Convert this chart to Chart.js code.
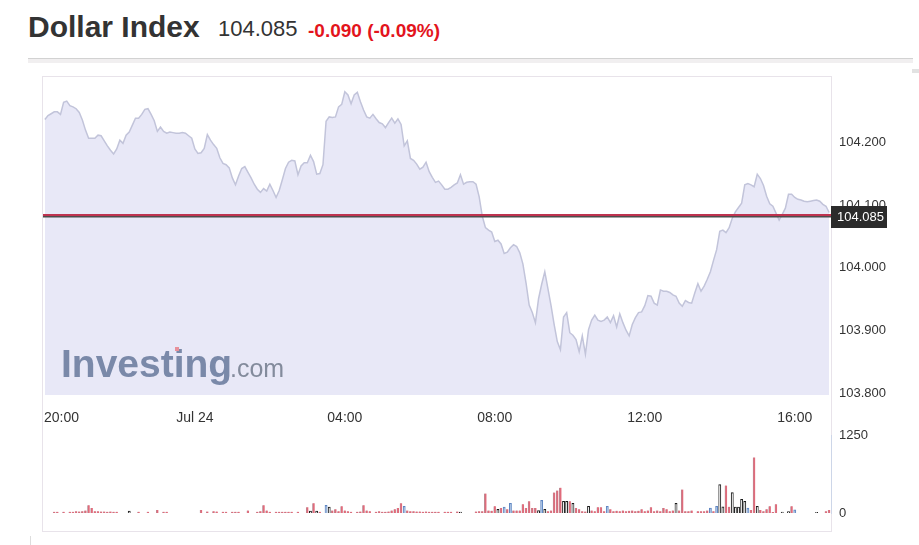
<!DOCTYPE html>
<html>
<head>
<meta charset="utf-8">
<script src="https://cdn.jsdelivr.net/npm/chart.js@4.4.0/dist/chart.umd.min.js"></script>
<style>
    body { margin: 0; background: #fff; width: 919px; height: 545px; overflow: hidden; position: relative; font-family: "Liberation Sans", Arial, sans-serif; }
    .t { position: absolute; white-space: nowrap; line-height: 1; }
    .ln { position: absolute; }
    canvas { position: absolute; left: 0; }
</style>
</head>
<body>
<div class="t" style="left:28px;top:12px;font-size:30px;font-weight:bold;color:#333">Dollar Index</div>
<div class="t" style="left:218px;top:18px;font-size:22px;color:#333">104.085</div>
<div class="t" style="left:308px;top:21px;font-size:19px;font-weight:bold;color:#e3141c">-0.090 (-0.09%)</div>

<div class="ln" style="left:28px;top:58px;width:885px;height:1px;background:#d2d2d2"></div>
<div class="ln" style="left:28px;top:59px;width:885px;height:4px;background:#f1eff0"></div>
<div class="ln" style="left:912px;top:69px;width:7px;height:4px;background:#e2e2e2"></div>
<div class="ln" style="left:42px;top:76px;width:788px;height:454px;border:1px solid #e8e3ea"></div>
<div class="ln" style="left:30px;top:536px;width:1px;height:9px;background:#ddd"></div>

<canvas id="price" width="919" height="430" style="top:0"></canvas>
<canvas id="vol" width="919" height="125" style="top:420px"></canvas>

<script>
// 5-minute points from 20:00 (minute 0) to 16:55
const stepMinutes = 5;

const prices = [
    104.236,104.242,104.245,104.248,104.248,104.244,104.263,104.265,104.258,104.256,
    104.253,104.247,104.235,104.219,104.206,104.206,104.206,104.211,104.210,104.202,
    104.194,104.187,104.181,104.189,104.203,104.198,104.211,104.216,104.227,104.238,
    104.238,104.244,104.252,104.253,104.244,104.234,104.217,104.224,104.217,104.214,
    104.216,104.215,104.214,104.214,104.215,104.214,104.210,104.206,104.189,104.182,
    104.183,104.190,104.212,104.203,104.196,104.190,104.175,104.166,104.164,104.159,
    104.143,104.132,104.146,104.158,104.161,104.152,104.143,104.133,104.125,104.120,
    104.126,104.122,104.133,104.123,104.112,104.123,104.140,104.158,104.168,104.171,
    104.170,104.148,104.162,104.167,104.167,104.179,104.169,104.149,104.150,104.164,
    104.233,104.240,104.239,104.240,104.256,104.260,104.280,104.275,104.261,104.275,
    104.279,104.264,104.251,104.240,104.238,104.244,104.237,104.231,104.229,104.223,
    104.231,104.238,104.230,104.237,104.228,104.194,104.202,104.174,104.171,104.165,
    104.157,104.160,104.168,104.153,104.144,104.136,104.138,104.132,104.125,104.125,
    104.128,104.132,104.135,104.148,104.133,104.136,104.137,104.137,104.133,104.113,
    104.082,104.064,104.060,104.057,104.042,104.044,104.038,104.023,104.025,104.032,
    104.037,104.034,104.024,104.006,103.976,103.941,103.929,103.913,103.951,103.974,
    103.994,103.967,103.940,103.910,103.883,103.870,103.922,103.929,103.897,103.893,
    103.886,103.867,103.892,103.863,103.902,103.917,103.925,103.917,103.915,103.917,
    103.922,103.913,103.924,103.906,103.927,103.913,103.901,103.892,103.910,103.921,
    103.929,103.930,103.940,103.956,103.955,103.944,103.941,103.965,103.963,103.963,
    103.961,103.957,103.955,103.944,103.939,103.948,103.945,103.944,103.960,103.975,
    103.963,103.971,103.982,103.994,104.012,104.029,104.058,104.060,104.056,104.064,
    104.079,104.089,104.096,104.103,104.132,104.134,104.132,104.129,104.149,104.142,
    104.131,104.114,104.102,104.098,104.087,104.076,104.085,104.095,104.117,104.117,
    104.112,104.109,104.108,104.106,104.105,104.106,104.107,104.108,104.106,104.101,
    104.098,104.088
];

const volumes = [
    0,0,0,20,20,0,20,0,20,20,
    30,25,30,40,125,80,30,30,25,25,
    20,25,20,20,0,0,0,30,0,0,
    20,0,0,20,0,0,50,0,20,20,
    0,0,0,0,0,0,0,0,0,0,
    50,0,25,0,30,25,0,20,20,0,
    20,20,20,0,0,40,0,0,20,30,
    125,40,20,0,20,20,20,20,20,20,
    0,20,0,0,95,30,158,30,20,0,
    125,95,40,60,30,110,40,30,20,0,
    20,25,125,40,30,0,20,30,20,20,
    25,40,60,80,158,110,40,30,30,25,
    25,20,25,20,20,20,20,0,20,20,
    20,0,25,15,0,0,0,0,25,30,
    30,316,40,35,110,60,80,95,60,158,
    40,40,40,140,80,190,80,80,40,205,
    60,30,40,330,365,410,190,190,190,158,
    80,60,30,25,110,40,30,95,95,30,
    110,60,30,35,30,40,30,35,40,30,
    35,60,30,40,95,30,40,30,80,60,
    30,40,158,40,380,30,30,40,0,30,
    30,30,40,80,30,110,460,100,445,100,
    330,95,95,220,190,80,50,900,110,50,
    30,60,110,15,140,0,15,0,25,110,
    50,0,0,0,0,0,0,10,0,0,
    30,50
];

// d = down (red), u = up (hollow), b = blue
const volumeTypes = (
    'dddddddddd' + 'dddddddddd' + 'dddddddudd' + 'dddddddddd' + 'dddddddddd' +
    'dddddddddd' + 'dddddddddd' + 'dddddddddd' + 'dddddududd' + 'budddddddd' +
    'dddddddddd' + 'dddddbdddd' + 'dddddddddd' + 'dddudddddd' + 'dddddudbdb' +
    'ddddddddub' + 'uddddduudu' + 'dddduddddd' + 'bddddddddd' + 'dddddddddd' +
    'dduddddddd' + 'dddbdbuudd' + 'uuuuubddud' + 'ddddddudud' + 'bddddddudd' +
    'dd'
).split('');

const lastPrice = 104.085;
const yTicks = [103.8, 103.9, 104.0, 104.1, 104.2];
const volTicks = [0, 1250];
const xTickValues = [0, 240, 480, 720, 960, 1200];
const xTickLabels = ['20:00', 'Jul 24', '04:00', '08:00', '12:00', '16:00'];

const times = prices.map((p, i) => i * stepMinutes);
const FONT = '"Liberation Sans", Arial, sans-serif';
Chart.defaults.font.family = FONT;

const xRange = { min: -3, max: 1258 };

const priceDecor = {
    id: 'priceDecor',
    afterDatasetsDraw(chart) {
        const { ctx } = chart;
        ctx.save();
        ctx.textBaseline = 'alphabetic';
        ctx.fillStyle = '#7a89a9';
        ctx.font = 'bold 39px ' + FONT;
        ctx.fillText('Investing', 61, 377);
        ctx.fillStyle = '#838b9c';
        ctx.font = '25px ' + FONT;
        ctx.fillText('.com', 230, 377);
        ctx.fillStyle = '#e8909a';
        ctx.fillRect(175, 347, 4, 4);
        ctx.restore();
    },
    afterDraw(chart) {
        const { ctx, chartArea, scales } = chart;
        const y = Math.round(scales.y.getPixelForValue(lastPrice));
        const w = chartArea.right - chartArea.left;
        ctx.save();
        // current price line
        ctx.fillStyle = '#bf3350';
        ctx.fillRect(chartArea.left, y, w, 2);
        ctx.fillStyle = '#4d4d4d';
        ctx.fillRect(chartArea.left, y + 2, w, 1.5);
        // price tag
        ctx.fillStyle = '#2b2b2b';
        ctx.fillRect(chartArea.right, y - 8, 56, 22);
        ctx.fillStyle = '#fff';
        ctx.font = '13px ' + FONT;
        ctx.textBaseline = 'middle';
        ctx.fillText(lastPrice.toFixed(3), chartArea.right + 6, y + 3);
        // time labels
        ctx.fillStyle = '#333';
        ctx.font = '14px ' + FONT;
        xTickValues.forEach((v, i) => {
            const x = scales.x.getPixelForValue(v);
            const tw = ctx.measureText(xTickLabels[i]).width;
            const left = Math.max(x - tw / 2, chartArea.left + 1);
            ctx.fillText(xTickLabels[i], left, 418);
        });
        ctx.restore();
    }
};

new Chart(document.getElementById('price'), {
    type: 'line',
    data: {
        datasets: [{
            data: prices.map((p, i) => ({ x: times[i], y: p })),
            borderColor: '#c2c4da',
            borderWidth: 1.5,
            backgroundColor: '#e8e8f7',
            fill: 'start',
            pointRadius: 0,
            tension: 0
        }]
    },
    options: {
        responsive: false,
        animation: false,
        layout: { padding: { left: 43, top: 76, right: 0, bottom: 35 } },
        plugins: { legend: { display: false }, tooltip: { enabled: false } },
        scales: {
            x: { type: 'linear', display: false, min: xRange.min, max: xRange.max },
            y: {
                position: 'right',
                min: 103.798,
                max: 104.305,
                grid: { display: false, drawTicks: false },
                border: { display: false },
                afterBuildTicks: (s) => { s.ticks = yTicks.map(v => ({ value: v })); },
                afterFit: (s) => { s.width = 88; },
                ticks: {
                    padding: 8,
                    color: '#333',
                    font: { size: 13 },
                    callback: (v) => Number(v).toFixed(3)
                }
            }
        }
    },
    plugins: [priceDecor]
});

const barFill = { d: '#e06b7b', u: '#ffffff', b: '#a8c0e2' };
const barEdge = { d: '#a89aa0', u: '#1a1a1a', b: '#5d85c2' };

new Chart(document.getElementById('vol'), {
    type: 'bar',
    data: {
        datasets: [{
            data: volumes.map((v, i) => ({ x: times[i], y: v })),
            backgroundColor: volumeTypes.map(t => barFill[t]),
            borderColor: volumeTypes.map(t => barEdge[t]),
            borderWidth: volumeTypes.map(t => t === 'd' ? { left: 0.6 } : 1),
            borderSkipped: 'bottom',
            barThickness: 2.2
        }]
    },
    options: {
        responsive: false,
        animation: false,
        layout: { padding: { left: 43, top: 14, right: 0, bottom: 32 } },
        plugins: { legend: { display: false }, tooltip: { enabled: false } },
        scales: {
            x: { type: 'linear', display: false, offset: false, min: xRange.min, max: xRange.max },
            y: {
                position: 'right',
                min: 0,
                max: 1250,
                grid: { display: false, drawTicks: false },
                border: { display: true, color: '#cdd6e8' },
                afterBuildTicks: (s) => { s.ticks = volTicks.map(v => ({ value: v })); },
                afterFit: (s) => { s.width = 88; },
                ticks: { padding: 8, color: '#333', font: { size: 13 }, callback: (v) => String(v) }
            }
        }
    }
});
</script>
</body>
</html>
